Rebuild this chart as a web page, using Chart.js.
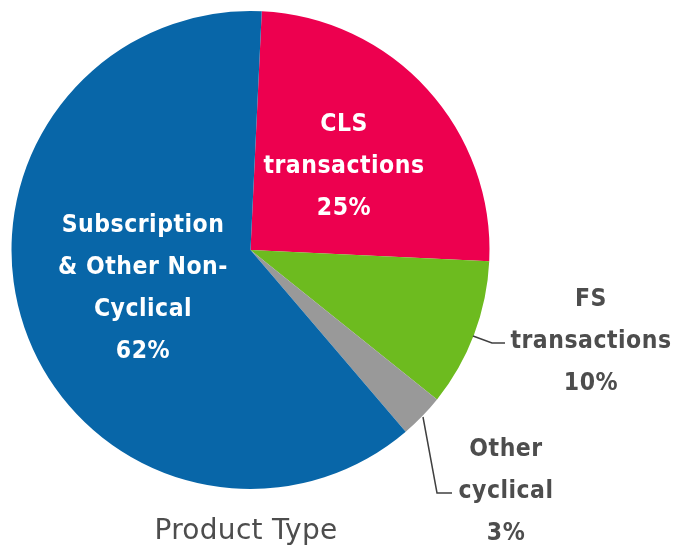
<!DOCTYPE html>
<html>
<head>
<meta charset="utf-8">
<script src="https://cdn.jsdelivr.net/npm/chart.js@4"></script>
<style>
  html, body { margin: 0; padding: 0; background: #fff; }
  #wrap { width: 675px; height: 545px; position: relative; }
</style>
</head>
<body>
<div id="wrap"><canvas id="productChart" width="675" height="545"></canvas></div>
<script>
// chart data
const categories = ['CLS transactions', 'FS transactions', 'Other cyclical', 'Subscription & Other Non-Cyclical'];
const shares = [25, 10, 3, 62];
const sliceColors = ['#ed004f', '#6dbb1f', '#999999', '#0866a8'];
const labelLines = [
    ['CLS', 'transactions', '25%'],
    ['FS', 'transactions', '10%'],
    ['Other', 'cyclical', '3%'],
    ['Subscription', '& Other Non-', 'Cyclical', '62%']
];
const chartTitle = 'Product Type';

const FONT = '"DejaVu Sans Condensed", "DejaVu Sans", sans-serif';
const TEXT_GRAY = '#4d4d4d';

// where each label block sits (centre x, first line y), inside or outside the pie
const labelPlace = [
    { x: 344, y: 125, color: '#fff' },
    { x: 591, y: 300, color: TEXT_GRAY, leader: [[473, 336], [492, 343], [505, 343]] },
    { x: 506, y: 450, color: TEXT_GRAY, leader: [[423, 417], [437, 493], [452, 493]] },
    { x: 143, y: 226, color: '#fff' }
];

const labelPlugin = {
    id: 'sliceLabels',
    afterDatasetsDraw(chart) {
        const ctx = chart.ctx;
        ctx.save();
        ctx.textAlign = 'center';
        ctx.textBaseline = 'middle';
        ctx.font = 'bold 24.5px ' + FONT;
        ctx.letterSpacing = '0.5px';
        labelLines.forEach((lines, i) => {
            const p = labelPlace[i];
            if (p.leader) {
                ctx.strokeStyle = '#404040';
                ctx.lineWidth = 1.5;
                ctx.beginPath();
                ctx.moveTo(p.leader[0][0], p.leader[0][1]);
                for (let k = 1; k < p.leader.length; k++) ctx.lineTo(p.leader[k][0], p.leader[k][1]);
                ctx.stroke();
            }
            ctx.fillStyle = p.color;
            lines.forEach((t, j) => ctx.fillText(t, p.x, p.y + j * 42));
        });
        // caption under the pie
        ctx.font = '28px "DejaVu Sans", sans-serif';
        ctx.letterSpacing = '0.3px';
        ctx.textBaseline = 'alphabetic';
        ctx.fillStyle = TEXT_GRAY;
        ctx.fillText(chartTitle, 246, 539);
        ctx.restore();
    }
};

new Chart(document.getElementById('productChart'), {
    type: 'pie',
    data: {
        labels: categories,
        datasets: [{
            data: shares,
            backgroundColor: sliceColors,
            borderWidth: 0
        }]
    },
    options: {
        responsive: false,
        animation: false,
        rotation: 2.7,
        layout: { padding: { left: 11, top: 11, right: 185, bottom: 56 } },
        plugins: {
            legend: { display: false },
            tooltip: { enabled: false },
            title: { display: false }
        }
    },
    plugins: [labelPlugin]
});
</script>
</body>
</html>
